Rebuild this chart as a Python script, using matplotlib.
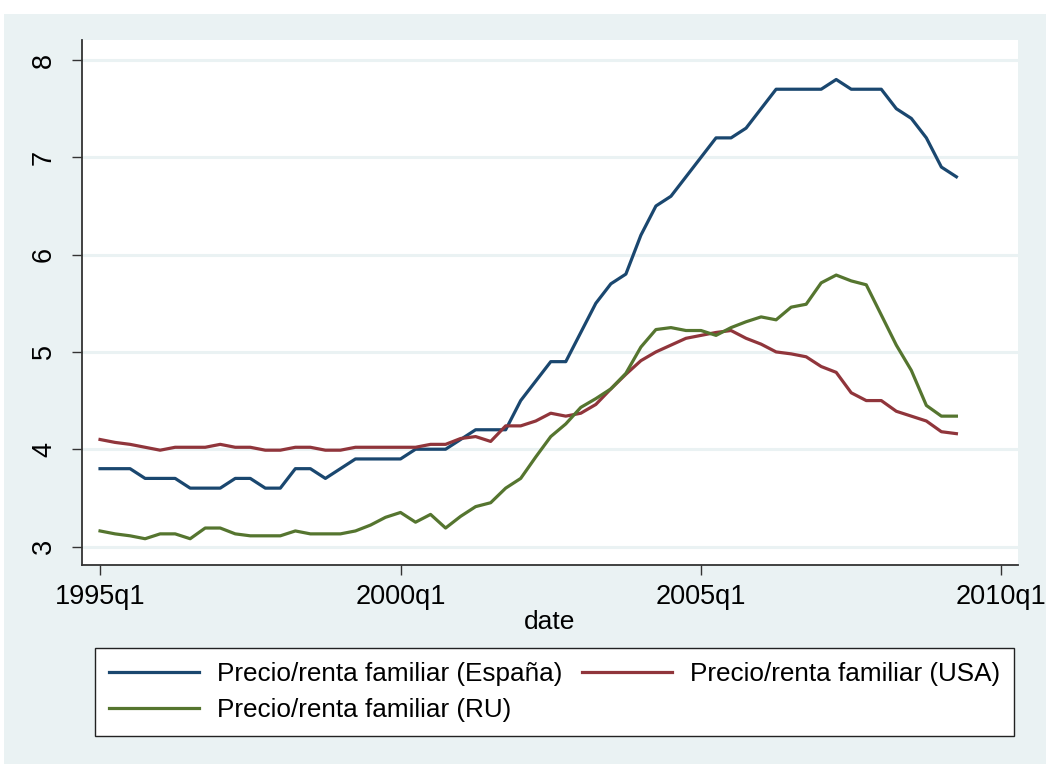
import numpy as np
import matplotlib
matplotlib.use("Agg")
import matplotlib.pyplot as plt
from matplotlib.patches import Rectangle

plt.rcParams["font.family"] = ["Liberation Sans", "DejaVu Sans"]

# datos trimestrales 1995q1 - 2009q2
espana = [3.8, 3.8, 3.8, 3.7, 3.7, 3.7, 3.6, 3.6, 3.6, 3.7,
          3.7, 3.6, 3.6, 3.8, 3.8, 3.7, 3.8, 3.9, 3.9, 3.9,
          3.9, 4.0, 4.0, 4.0, 4.1, 4.2, 4.2, 4.2, 4.5, 4.7,
          4.9, 4.9, 5.2, 5.5, 5.7, 5.8, 6.2, 6.5, 6.6, 6.8,
          7.0, 7.2, 7.2, 7.3, 7.5, 7.7, 7.7, 7.7, 7.7, 7.8,
          7.7, 7.7, 7.7, 7.5, 7.4, 7.2, 6.9, 6.8]

usa = [4.10, 4.07, 4.05, 4.02, 3.99, 4.02, 4.02, 4.02, 4.05, 4.02,
       4.02, 3.99, 3.99, 4.02, 4.02, 3.99, 3.99, 4.02, 4.02, 4.02,
       4.02, 4.02, 4.05, 4.05, 4.11, 4.13, 4.08, 4.24, 4.24, 4.29,
       4.37, 4.34, 4.37, 4.46, 4.62, 4.77, 4.91, 5.00, 5.07, 5.14,
       5.17, 5.20, 5.22, 5.14, 5.08, 5.00, 4.98, 4.95, 4.85, 4.79,
       4.58, 4.50, 4.50, 4.39, 4.34, 4.29, 4.18, 4.16]

ru = [3.16, 3.13, 3.11, 3.08, 3.13, 3.13, 3.08, 3.19, 3.19, 3.13,
      3.11, 3.11, 3.11, 3.16, 3.13, 3.13, 3.13, 3.16, 3.22, 3.30,
      3.35, 3.25, 3.33, 3.19, 3.31, 3.41, 3.45, 3.60, 3.70, 3.92,
      4.13, 4.26, 4.43, 4.52, 4.62, 4.78, 5.05, 5.23, 5.25, 5.22,
      5.22, 5.17, 5.25, 5.31, 5.36, 5.33, 5.46, 5.49, 5.71, 5.79,
      5.73, 5.69, 5.38, 5.07, 4.81, 4.45, 4.34, 4.34]

xticks = [0, 20, 40, 60]
xticklabels = ["1995q1", "2000q1", "2005q1", "2010q1"]
yticks = [3, 4, 5, 6, 7, 8]

t = np.arange(len(espana))

bg = "#eaf2f3"
axis_col = "#333333"
fs = 18.8

fig = plt.figure(figsize=(10.46, 7.64), dpi=100)
fig.patch.set_facecolor("white")
fig.patches.append(Rectangle((4 / 1046, 0), 1, 1 - 14 / 764,
                             transform=fig.transFigure, facecolor=bg,
                             edgecolor="none", zorder=-10))

ax = fig.add_axes([82 / 1046, 1 - 565 / 764, 936 / 1046, 525 / 764])
ax.set_facecolor("white")

for y in yticks:
    ax.axhline(y, color=bg, linewidth=2.2, zorder=1)

l1, = ax.plot(t, espana, color="#1a476f", linewidth=2.3, zorder=3,
              label="Precio/renta familiar (España)")
l2, = ax.plot(t, usa, color="#90353b", linewidth=2.3, zorder=3,
              label="Precio/renta familiar (USA)")
l3, = ax.plot(t, ru, color="#55752f", linewidth=2.3, zorder=3,
              label="Precio/renta familiar (RU)")

ax.set_xlim(-1.2, 61.1)
ax.set_ylim(2.81, 8.206)

ax.set_xticks(xticks)
ax.set_xticklabels(xticklabels)
ax.set_yticks(yticks)
ax.set_yticklabels([str(v) for v in yticks], rotation=90, va="center")

ax.tick_params(axis="both", labelsize=19.5, colors=axis_col, labelcolor="black",
               length=7, width=1.0)
ax.tick_params(axis="x", pad=7)
ax.tick_params(axis="y", pad=11)

for side in ["top", "right"]:
    ax.spines[side].set_visible(False)
for side in ["left", "bottom"]:
    ax.spines[side].set_color(axis_col)
    ax.spines[side].set_linewidth(1.3)

ax.set_xlabel("date", fontsize=19, labelpad=0)

leg = fig.legend(handles=[l1, l3, l2], ncol=2, loc="upper left",
                 bbox_to_anchor=(95 / 1046, 1 - 648 / 764),
                 fontsize=fs, frameon=True, fancybox=False, framealpha=1,
                 handlelength=3.45, handletextpad=0.68, columnspacing=0.75,
                 borderpad=0.55, labelspacing=0.45, borderaxespad=0)
leg.get_frame().set_edgecolor("#222222")
leg.get_frame().set_linewidth(1.0)
leg.get_frame().set_facecolor("white")

fig.savefig("out.png", dpi=100, facecolor=fig.get_facecolor())
